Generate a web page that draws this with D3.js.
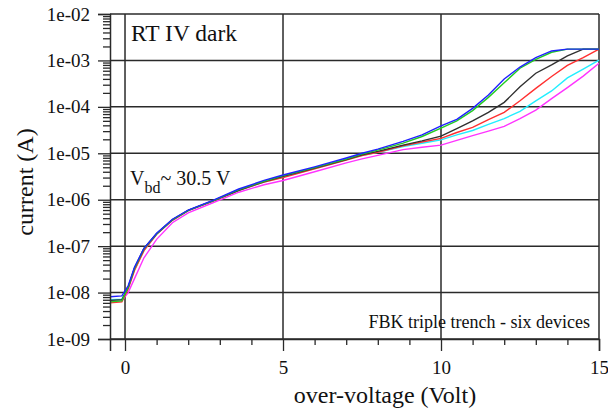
<!DOCTYPE html>
<html>
<head>
<meta charset="utf-8">
<script src="https://cdn.jsdelivr.net/npm/d3@7"></script>
<style>
  body { margin: 0; background: #fff; }
  text { font-family: "Liberation Serif", "Times New Roman", serif; fill: #111; }
</style>
</head>
<body>
<script>
// over-voltage (V) shared by all six devices
var volts = [-0.47, -0.1, 0.1, 0.3, 0.6, 1.0, 1.5, 2.0, 2.8, 3.6, 4.4, 5.0, 6.0, 7.0, 7.5, 8.0, 8.8, 9.4,
             10.0, 10.5, 11.0, 11.5, 12.0, 12.5, 13.0, 13.5, 14.0, 14.5, 15.0]

// current (A) for each device
var magenta = [6.3e-9, 6.6e-9, 1.0e-8, 2.0e-8, 5.6e-8, 1.4e-7, 3.2e-7, 5.2e-7, 8.7e-7, 1.45e-6, 2.1e-6, 2.6e-6, 4.0e-6, 6.2e-6, 7.6e-6, 9.0e-6, 1.2e-5, 1.35e-5,
               1.5e-5, 1.9e-5, 2.4e-5, 3.0e-5, 3.8e-5, 5.6e-5, 8.5e-5, 1.5e-4, 2.6e-4, 4.6e-4, 8.7e-4]
var cyan = [7.0e-9, 7.2e-9, 1.25e-8, 3.1e-8, 8.2e-8, 1.8e-7, 3.6e-7, 5.8e-7, 9.6e-7, 1.6e-6, 2.4e-6, 3.1e-6, 4.7e-6, 7.2e-6, 9.0e-6, 1.05e-5, 1.4e-5, 1.65e-5,
            1.95e-5, 2.5e-5, 3.1e-5, 4.2e-5, 5.6e-5, 8.0e-5, 1.35e-4, 2.2e-4, 4.2e-4, 6.5e-4, 1.02e-3]
var red = [6.0e-9, 6.3e-9, 1.2e-8, 3.0e-8, 8.0e-8, 1.8e-7, 3.6e-7, 5.8e-7, 9.5e-7, 1.6e-6, 2.4e-6, 3.0e-6, 4.6e-6, 7.1e-6, 8.9e-6, 1.05e-5, 1.45e-5, 1.75e-5,
           2.1e-5, 2.8e-5, 3.6e-5, 5.3e-5, 7.6e-5, 1.35e-4, 2.5e-4, 4.5e-4, 7.8e-4, 1.15e-3, 1.75e-3]
var black = [6.8e-9, 7.0e-9, 1.3e-8, 3.4e-8, 8.9e-8, 1.85e-7, 3.7e-7, 5.9e-7, 9.6e-7, 1.6e-6, 2.45e-6, 3.2e-6, 4.8e-6, 7.3e-6, 9.3e-6, 1.1e-5, 1.5e-5, 1.85e-5,
             2.35e-5, 3.4e-5, 5.0e-5, 7.6e-5, 1.25e-4, 2.7e-4, 5.3e-4, 8.0e-4, 1.25e-3, 1.75e-3, 1.75e-3]
var green = [6.3e-9, 6.6e-9, 1.3e-8, 3.3e-8, 8.8e-8, 1.85e-7, 3.7e-7, 5.9e-7, 9.6e-7, 1.65e-6, 2.5e-6, 3.3e-6, 4.9e-6, 7.5e-6, 9.6e-6, 1.17e-5, 1.65e-5, 2.3e-5,
             3.5e-5, 5.0e-5, 8.3e-5, 1.6e-4, 3.3e-4, 6.8e-4, 1.05e-3, 1.5e-3, 1.75e-3, 1.75e-3, 1.75e-3]
var blue = [8.1e-9, 8.5e-9, 1.4e-8, 3.5e-8, 9.0e-8, 1.9e-7, 3.8e-7, 6.0e-7, 9.8e-7, 1.7e-6, 2.6e-6, 3.4e-6, 5.1e-6, 7.9e-6, 1.0e-5, 1.23e-5, 1.8e-5, 2.5e-5,
            3.9e-5, 5.4e-5, 9.3e-5, 1.8e-4, 4.0e-4, 7.2e-4, 1.15e-3, 1.6e-3, 1.75e-3, 1.75e-3, 1.75e-3]

var xTicks = [0, 5, 10, 15]
var yTicks = [1e-9, 1e-8, 1e-7, 1e-6, 1e-5, 1e-4, 1e-3, 1e-2]
var yLabels = ["1e-09", "1e-08", "1e-07", "1e-06", "1e-05", "1e-04", "1e-03", "1e-02"]

var series = [
    { name: "magenta", values: magenta, color: "#ff33ff" },
    { name: "cyan", values: cyan, color: "#22eeff" },
    { name: "red", values: red, color: "#ff3030" },
    { name: "black", values: black, color: "#303030" },
    { name: "green", values: green, color: "#22cc22" },
    { name: "blue", values: blue, color: "#2020ff" }
]

var w = 608
var h = 414
// plot box edges (don't call these top/left, window.top is read-only)
var pl = 110, pr = 599, pt = 14, pb = 339

var svg = d3.select("body").append("svg")
    .attr("width", w)
    .attr("height", h)

var xScale = d3.scaleLinear().domain([-0.475, 15]).range([pl, pr])
var yScale = d3.scaleLog().domain([1e-9, 1e-2]).range([pb, pt])

// minor log ticks 2..9 per decade
var minorY = []
yTicks.slice(0, -1).forEach(d => {
    for (var k = 2; k <= 9; k++) minorY.push(d * k)
})
var minorX = d3.range(0, 16).filter(d => d % 5 != 0)

// grid lines
svg.append("g").selectAll("line")
    .data(yTicks)
    .enter().append("line")
    .attr("x1", pl).attr("x2", pr)
    .attr("y1", d => yScale(d)).attr("y2", d => yScale(d))
    .attr("stroke", "#2a2a2a").attr("stroke-width", 1.5)

svg.append("g").selectAll("line")
    .data(xTicks)
    .enter().append("line")
    .attr("x1", d => xScale(d)).attr("x2", d => xScale(d))
    .attr("y1", pt).attr("y2", pb)
    .attr("stroke", "#2a2a2a").attr("stroke-width", 1.5)

// curves
var line = d3.line()
    .x((d, i) => xScale(volts[i]))
    .y(d => yScale(d))

svg.append("g").selectAll("path")
    .data(series)
    .enter().append("path")
    .attr("d", d => line(d.values))
    .attr("fill", "none")
    .attr("stroke", d => d.color)
    .attr("stroke-width", 1.4)

// y axis (major + minor)
var yAxis = d3.axisLeft(yScale).tickValues(yTicks).tickSize(12).tickPadding(8)
    .tickFormat((d, i) => yLabels[i])
svg.append("g").attr("transform", "translate(" + pl + ",0)").call(yAxis)
svg.append("g").attr("transform", "translate(" + pl + ",0)")
    .call(d3.axisLeft(yScale).tickValues(minorY).tickSize(7).tickFormat(""))
    .select(".domain").remove()

// x axis (major + minor)
var xAxis = d3.axisBottom(xScale).tickValues(xTicks).tickSize(12).tickPadding(10)
svg.append("g").attr("transform", "translate(0," + pb + ")").call(xAxis)
svg.append("g").attr("transform", "translate(0," + pb + ")")
    .call(d3.axisBottom(xScale).tickValues(minorX).tickSize(6).tickFormat(""))
    .select(".domain").remove()

svg.selectAll(".domain").attr("stroke", "#2a2a2a").attr("stroke-width", 1.5)
svg.selectAll(".tick line").attr("stroke", "#2a2a2a").attr("stroke-width", 1.3)
svg.selectAll(".tick text")
    .attr("font-family", null)
    .style("font-family", "'Liberation Serif', 'Times New Roman', serif")
    .style("font-size", "19px")
    .attr("fill", "#111")

// axis titles
svg.append("text")
    .attr("x", 385).attr("y", 403)
    .attr("text-anchor", "middle")
    .style("font-size", "24px")
    .text("over-voltage (Volt)")

svg.append("text")
    .attr("transform", "translate(33,182) rotate(-90)")
    .attr("text-anchor", "middle")
    .style("font-size", "24px")
    .text("current (A)")

// annotations
svg.append("text")
    .attr("x", 131).attr("y", 41)
    .style("font-size", "23.5px")
    .text("RT IV dark")

var vbd = svg.append("text")
    .attr("x", 130).attr("y", 185)
    .style("font-size", "20px")
vbd.append("tspan").text("V")
vbd.append("tspan").attr("dy", 8).style("font-size", "16px").text("bd")
vbd.append("tspan").attr("dy", -8).text("~ 30.5 V")

svg.append("text")
    .attr("x", 590).attr("y", 328)
    .attr("text-anchor", "end")
    .style("font-size", "18px")
    .text("FBK triple trench - six devices")
</script>
</body>
</html>
